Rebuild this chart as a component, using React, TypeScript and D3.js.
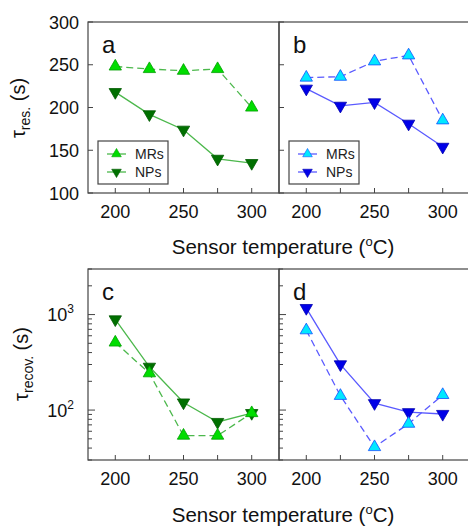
import React, { useEffect, useRef } from 'react';
import * as d3 from 'd3';

const temps = [200, 225, 250, 275, 300];
const xTicks = [200, 250, 300];
const resTicks = [100, 150, 200, 250, 300];

// response times (s)
const resMRsA = [248, 245, 243, 245, 200];
const resNPsA = [218, 192, 174, 140, 135];
const resMRsB = [235, 236, 254, 261, 185];
const resNPsB = [222, 202, 206, 181, 154];

// recovery times (s)
const recMRsC = [510, 243, 54, 54, 93];
const recNPsC = [890, 284, 120, 75, 93];
const recMRsD = [685, 141, 41, 72, 144];
const recNPsD = [1170, 301, 118, 95, 91];

const legendLabels = ['MRs', 'NPs'];

const width = 468;
const height = 528;
const font = 'Arial, "Liberation Sans", sans-serif';

function App() {
    const ref = useRef<SVGSVGElement>(null);

    useEffect(() => {
        const svg = d3.select(ref.current)
        svg.selectAll('*').remove()

        const colLeft = [88, 279]
        const colRight = [279, 470]
        const topRow = { top: 22, bottom: 193 }
        const botRow = { top: 269, bottom: 460 }

        const green = { mrFill: '#00dd00', mrStroke: '#00a000', npFill: '#007000', npStroke: '#005a00', line: '#4cb84c' }
        const blue = { mrFill: '#00e8ff', mrStroke: '#1050ff', npFill: '#0000e8', npStroke: '#0000b0', line: '#5a5aff' }

        const yRes = d3.scaleLinear().domain([100, 300]).range([topRow.bottom, topRow.top])
        const yRec = d3.scaleLog().domain([30, 3000]).range([botRow.bottom, botRow.top])

        const triUp = d3.symbol().type(d3.symbolTriangle).size(66)

        function drawPanel(col, row, y, mr, np, colors, letter, isLog, legend) {
            const x = d3.scaleLinear().domain([180, 320]).range([colLeft[col], colRight[col]])
            const g = svg.append('g')

            // frame
            g.append('rect')
                .attr('x', colLeft[col]).attr('y', row.top)
                .attr('width', colRight[col] - colLeft[col]).attr('height', row.bottom - row.top)
                .attr('fill', 'none').attr('stroke', '#444').attr('stroke-width', 1.2)

            // x ticks (inward)
            temps.forEach(t => {
                g.append('line')
                    .attr('x1', x(t)).attr('x2', x(t))
                    .attr('y1', row.bottom).attr('y2', row.bottom - 5)
                    .attr('stroke', '#444')
            })
            xTicks.forEach(t => {
                g.append('text')
                    .attr('x', x(t)).attr('y', row.bottom + 25)
                    .attr('text-anchor', 'middle')
                    .attr('font-size', 18).attr('font-family', font).attr('fill', '#111')
                    .text(t)
            })

            // y ticks (inward)
            const x0 = colLeft[col]
            if (!isLog) {
                resTicks.forEach(v => {
                    g.append('line')
                        .attr('x1', x0).attr('x2', x0 + 5)
                        .attr('y1', y(v)).attr('y2', y(v))
                        .attr('stroke', '#444')
                })
            } else {
                const minor = []
                for (let dec = 10; dec <= 1000; dec *= 10) {
                    for (let m = 1; m < 10; m++) {
                        const v = dec * m
                        if (v >= 30 && v <= 3000) minor.push(v)
                    }
                }
                minor.forEach(v => {
                    const major = v === 100 || v === 1000
                    g.append('line')
                        .attr('x1', x0).attr('x2', x0 + (major ? 7 : 4))
                        .attr('y1', y(v)).attr('y2', y(v))
                        .attr('stroke', '#444')
                })
            }

            if (col === 0) {
                if (!isLog) {
                    resTicks.forEach(v => {
                        g.append('text')
                            .attr('x', 79).attr('y', y(v) + 6.5)
                            .attr('text-anchor', 'end')
                            .attr('font-size', 18).attr('font-family', font).attr('fill', '#111')
                            .text(v)
                    })
                } else {
                    [[100, '2'], [1000, '3']].forEach(([v, e]) => {
                        const t = g.append('text')
                            .attr('x', 74).attr('y', y(v as number) + 6.5)
                            .attr('text-anchor', 'end')
                            .attr('font-size', 18).attr('font-family', font).attr('fill', '#111')
                        t.append('tspan').text('10')
                        t.append('tspan').attr('font-size', 12).attr('dy', -8).text(e as string)
                    })
                }
            }

            // panel letter
            g.append('text')
                .attr('x', colLeft[col] + 14).attr('y', row.top + 31)
                .attr('font-size', 24).attr('font-family', font).attr('fill', '#111')
                .text(letter)

            const line = d3.line<number>()
                .x((d, i) => x(temps[i]))
                .y(d => y(d))

            g.append('path')
                .attr('d', line(mr))
                .attr('fill', 'none').attr('stroke', colors.line).attr('stroke-width', 1.3)
                .attr('stroke-dasharray', '7,4')
            g.append('path')
                .attr('d', line(np))
                .attr('fill', 'none').attr('stroke', colors.line).attr('stroke-width', 1.3)

            np.forEach((v, i) => {
                g.append('path')
                    .attr('d', triUp())
                    .attr('transform', `translate(${x(temps[i])},${y(v)}) rotate(180)`)
                    .attr('fill', colors.npFill).attr('stroke', colors.npStroke).attr('stroke-width', 0.8)
            })
            mr.forEach((v, i) => {
                g.append('path')
                    .attr('d', triUp())
                    .attr('transform', `translate(${x(temps[i])},${y(v)})`)
                    .attr('fill', colors.mrFill).attr('stroke', colors.mrStroke).attr('stroke-width', 0.8)
            })

            if (legend) {
                const lx = colLeft[col] + 10
                const ly = 141
                g.append('rect')
                    .attr('x', lx).attr('y', ly).attr('width', 70).attr('height', 43)
                    .attr('fill', '#fff').attr('stroke', '#444').attr('stroke-width', 1.2)
                legendLabels.forEach((lab, i) => {
                    const cy = ly + 13 + i * 18
                    g.append('line')
                        .attr('x1', lx + 9).attr('x2', lx + 28)
                        .attr('y1', cy).attr('y2', cy)
                        .attr('stroke', colors.line).attr('stroke-width', 1.3)
                    g.append('path')
                        .attr('d', d3.symbol().type(d3.symbolTriangle).size(40)())
                        .attr('transform', `translate(${lx + 18.5},${cy}) ${i === 1 ? 'rotate(180)' : ''}`)
                        .attr('fill', i === 0 ? colors.mrFill : colors.npFill)
                        .attr('stroke', i === 0 ? colors.mrStroke : colors.npStroke).attr('stroke-width', 0.6)
                    g.append('text')
                        .attr('x', lx + 37).attr('y', cy + 5)
                        .attr('font-size', 14).attr('font-family', font).attr('fill', '#222')
                        .text(lab)
                })
            }
        }

        drawPanel(0, topRow, yRes, resMRsA, resNPsA, green, 'a', false, true)
        drawPanel(1, topRow, yRes, resMRsB, resNPsB, blue, 'b', false, true)
        drawPanel(0, botRow, yRec, recMRsC, recNPsC, green, 'c', true, false)
        drawPanel(1, botRow, yRec, recMRsD, recNPsD, blue, 'd', true, false)

        // axis titles
        ;[254, 522].forEach(yy => {
            const t = svg.append('text')
                .attr('x', 283).attr('y', yy)
                .attr('text-anchor', 'middle')
                .attr('font-size', 20.5).attr('font-family', font).attr('fill', '#111')
            t.append('tspan').text('Sensor temperature (')
            t.append('tspan').attr('font-size', 13).attr('dy', -8).text('o')
            t.append('tspan').attr('dy', 8).text('C)')
        })

        const yTitle = (cx, cy, sub) => {
            const t = svg.append('text')
                .attr('transform', `translate(${cx},${cy}) rotate(-90)`)
                .attr('text-anchor', 'middle')
                .attr('font-size', 20).attr('font-family', font).attr('fill', '#111')
            t.append('tspan').text('τ')
            t.append('tspan').attr('font-size', 14).attr('dy', 5).text(sub)
            t.append('tspan').attr('dy', -5).text(' (s)')
        }
        yTitle(25, 108, 'res.')
        yTitle(28, 364, 'recov.')
    }, [])

    return (
        <svg ref={ref} width={width} height={height}
            style={{ position: 'absolute', left: 0, top: 0, background: '#fff' }} />
    );
}

export default App;
